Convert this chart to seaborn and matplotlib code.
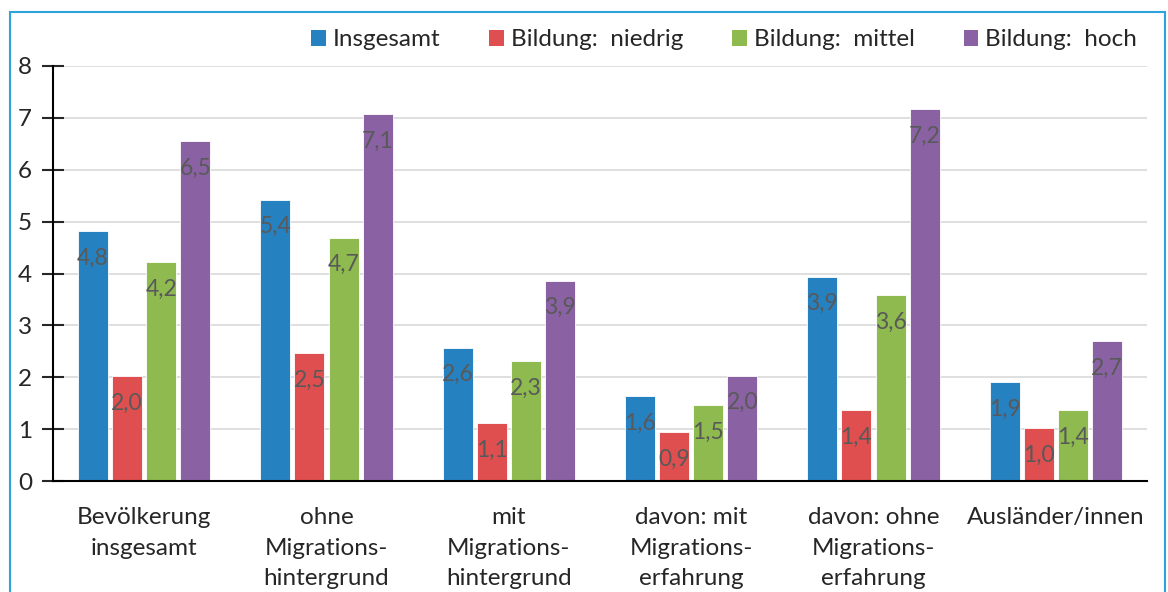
import pandas as pd
import matplotlib
matplotlib.use("Agg")
import matplotlib.pyplot as plt
import seaborn as sns
from matplotlib.patches import Rectangle, Patch

# --------------------------------------------------
# DATA
# --------------------------------------------------

groups = [
    "Bevölkerung\ninsgesamt",
    "ohne\nMigrations-\nhintergrund",
    "mit\nMigrations-\nhintergrund",
    "davon: mit\nMigrations-\nerfahrung",
    "davon: ohne\nMigrations-\nerfahrung",
    "Ausländer/innen",
]

series = ["Insgesamt", "Bildung:  niedrig", "Bildung:  mittel", "Bildung:  hoch"]

insgesamt = [4.82, 5.42, 2.57, 1.63, 3.94, 1.91]
niedrig = [2.02, 2.47, 1.11, 0.94, 1.36, 1.02]
mittel = [4.22, 4.69, 2.31, 1.46, 3.58, 1.37]
hoch = [6.55, 7.07, 3.86, 2.03, 7.17, 2.69]

colors = ["#2681C1", "#DF4F4F", "#8EBA4F", "#8A62A4"]

# --------------------------------------------------
# LONG FORMAT
# --------------------------------------------------

rows = []
for name, vals in zip(series, [insgesamt, niedrig, mittel, hoch]):
    for g, v in zip(groups, vals):
        rows.append({"Gruppe": g, "Serie": name, "Wert": v})
df = pd.DataFrame(rows)

# --------------------------------------------------
# PLOT
# --------------------------------------------------

sns.set_style("white")
plt.rcParams["font.family"] = ["Lato", "DejaVu Sans"]

fig = plt.figure(figsize=(11.68, 5.92), dpi=100)
ax = fig.add_axes([53 / 1168, 111 / 592, 1094 / 1168, 415 / 592])

sns.barplot(
    data=df,
    x="Gruppe",
    y="Wert",
    hue="Serie",
    order=groups,
    hue_order=series,
    palette=colors,
    width=0.75,
    gap=0.12,
    saturation=1,
    edgecolor="white",
    linewidth=0.6,
    ax=ax,
    legend=False,
)

# value labels inside the bar tops
for cont in ax.containers:
    for bar in cont:
        h = bar.get_height()
        ax.annotate(
            f"{h:.1f}".replace(".", ","),
            xy=(bar.get_x() + bar.get_width() / 2, h),
            xytext=(0, -27),
            textcoords="offset pixels",
            ha="center",
            va="center",
            fontsize=16.5,
            color="#595959",
        )

ax.set_ylim(0, 8)
ax.set_xlim(-0.5, len(groups) - 0.5)
ax.set_yticks(range(0, 9))
ax.set_xlabel("")
ax.set_ylabel("")

ax.yaxis.grid(True, color="#d9d9d9", linewidth=1.2)
ax.set_axisbelow(True)

for s in ["top", "right"]:
    ax.spines[s].set_visible(False)
ax.spines["left"].set_color("black")
ax.spines["left"].set_linewidth(1.5)
ax.spines["bottom"].set_color("black")
ax.spines["bottom"].set_linewidth(1.5)

ax.tick_params(axis="y", direction="inout", length=16, width=1.5,
               labelsize=17.5, pad=7, left=True)
ax.tick_params(axis="x", length=0, labelsize=17.5, pad=19)
for lbl in ax.get_xticklabels():
    lbl.set_linespacing(1.55)

# legend
handles = [Patch(facecolor=c, edgecolor="none") for c in colors]
ax.legend(
    handles,
    series,
    loc="center right",
    bbox_to_anchor=(1147 / 1168, 1 - 40 / 592),
    bbox_transform=fig.transFigure,
    ncol=4,
    frameon=False,
    fontsize=17.5,
    handlelength=0.6,
    handleheight=0.6,
    handletextpad=0.3,
    columnspacing=2.0,
    borderaxespad=0,
)

# outer frame
fig.patches.append(
    Rectangle(
        (10 / 1168, -0.05),
        1155 / 1168,
        1 - 12 / 592 + 0.05,
        transform=fig.transFigure,
        fill=False,
        edgecolor="#2EA3DC",
        linewidth=1.5,
    )
)

plt.savefig("out.png", dpi=100)
plt.close()
